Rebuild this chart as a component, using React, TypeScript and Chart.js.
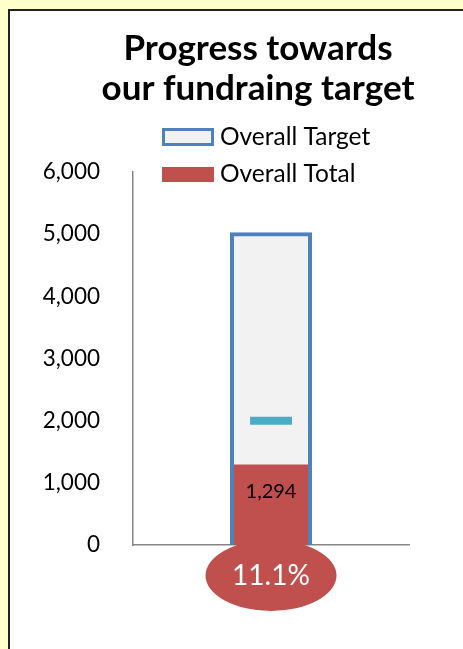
import React, { useEffect, useRef } from "react";
import { Chart, registerables } from "chart.js";
Chart.register(...registerables);

const categories = ["Fundraising"];
const targetValues = [5000];
const totalValues = [1294];
const milestoneValues = [2000];
const percentLabels = ["11.1%"];
const yTickValues = [0, 1000, 2000, 3000, 4000, 5000, 6000];
const titleLines = ["Progress towards", "our fundraing target"];
const seriesNames = ["Overall Target", "Overall Total", "Milestone"];

const BLUE = "#4F81BD";
const LIGHT = "#F2F2F2";
const RED = "#C0504D";
const TEAL = "#4BACC6";
const FONT = "Lato";

const thermoPlugin = {
  id: "thermo",
  afterLayout(chart: any) {
    const t = chart.titleBlock;
    if (t) {
      t.left = 0;
      t.right = chart.width;
    }
  },
  afterDatasetsDraw(chart: any) {
    const ctx = chart.ctx;
    const yScale = chart.scales.y;
    const bar = chart.getDatasetMeta(1).data[0];
    ctx.save();
    ctx.font = `20px ${FONT}`;
    ctx.fillStyle = "#000";
    ctx.textAlign = "center";
    ctx.textBaseline = "middle";
    ctx.fillText(totalValues[0].toLocaleString("en-US"), bar.x, bar.y + 27);
    const cx = bar.x;
    const cy = yScale.getPixelForValue(0) + 30.5;
    ctx.fillStyle = RED;
    ctx.beginPath();
    ctx.ellipse(cx, cy, 65.5, 35.5, 0, 0, Math.PI * 2);
    ctx.fill();
    ctx.fillStyle = "#fff";
    ctx.font = `28px ${FONT}`;
    ctx.fillText(percentLabels[0], cx, cy);
    ctx.restore();
  },
  afterDraw(chart: any) {
    const ctx = chart.ctx;
    ctx.save();
    const ds = chart.data.datasets;
    const rows = [126, 163.5];
    for (let i = 0; i < 2; i++) {
      const d = ds[i];
      const cy = rows[i];
      if (i === 0) {
        ctx.fillStyle = d.backgroundColor;
        ctx.fillRect(153.5, cy - 7.5, 49, 15);
        ctx.strokeStyle = d.borderColor;
        ctx.lineWidth = 3;
        ctx.strokeRect(153.5, cy - 7.5, 49, 15);
      } else {
        ctx.fillStyle = d.backgroundColor;
        ctx.fillRect(152, cy - 7.5, 52, 15);
      }
      ctx.fillStyle = "#000";
      ctx.font = `24.5px ${FONT}`;
      ctx.textAlign = "left";
      ctx.textBaseline = "middle";
      ctx.fillText(d.label, 210, cy);
    }
    ctx.restore();
  },
};

export default function App() {
  const ref = useRef<HTMLCanvasElement>(null);
  useEffect(() => {
    if (!ref.current) return;
    const chart = new Chart(ref.current, {
      type: "bar",
      data: {
        labels: categories,
        datasets: [
          {
            type: "bar",
            label: seriesNames[0],
            data: targetValues,
            backgroundColor: LIGHT,
            borderColor: BLUE,
            borderWidth: 4,
            borderSkipped: "bottom",
            inflateAmount: 2,
            grouped: false,
            barPercentage: 78 / 276,
            categoryPercentage: 1,
            order: 2,
          } as any,
          {
            type: "bar",
            label: seriesNames[1],
            data: totalValues,
            backgroundColor: RED,
            borderWidth: 0,
            inflateAmount: 0,
            grouped: false,
            barPercentage: 74 / 276,
            categoryPercentage: 1,
            order: 1,
          } as any,
          {
            type: "line",
            label: seriesNames[2],
            data: milestoneValues,
            showLine: false,
            pointStyle: "line",
            pointRadius: 21,
            pointBorderWidth: 8,
            borderColor: TEAL,
            backgroundColor: TEAL,
            order: 0,
          } as any,
        ],
      },
      options: {
        animation: false,
        responsive: false,
        devicePixelRatio: 1,
        layout: { padding: { left: 0, right: 97, top: 0, bottom: 106 } },
        plugins: {
          legend: { display: false },
          tooltip: { enabled: false },
          title: {
            display: true,
            text: titleLines,
            color: "#000",
            font: { family: FONT, size: 35, weight: "bold", lineHeight: 40 / 35 },
            padding: { top: 18, bottom: 63 },
          },
        },
        scales: {
          x: {
            grid: { display: false, drawTicks: false },
            ticks: { display: false },
            border: { display: true, color: "#868686", width: 1.5 },
          },
          y: {
            min: yTickValues[0],
            max: yTickValues[yTickValues.length - 1],
            grid: { display: false, drawTicks: false },
            border: { display: true, color: "#868686", width: 1.5 },
            afterFit: (scale: any) => {
              scale.width = 123;
            },
            ticks: {
              stepSize: yTickValues[1] - yTickValues[0],
              padding: 33,
              color: "#000",
              font: { family: FONT, size: 22.5 },
              callback: (v: any) => Number(v).toLocaleString("en-US"),
            },
          },
        },
      },
      plugins: [thermoPlugin],
    });
    return () => chart.destroy();
  }, []);
  return (
    <div style={{ position: "fixed", inset: 0, overflow: "hidden", background: "#FFFFCC" }}>
      <div
        style={{
          position: "absolute",
          left: 8,
          top: 9,
          width: 520,
          height: 700,
          border: "2px solid #222",
          background: "#fff",
        }}
      >
        <canvas ref={ref} width={496} height={640} style={{ position: "absolute", left: 0, top: 0, width: 496, height: 640 }} />
      </div>
    </div>
  );
}
